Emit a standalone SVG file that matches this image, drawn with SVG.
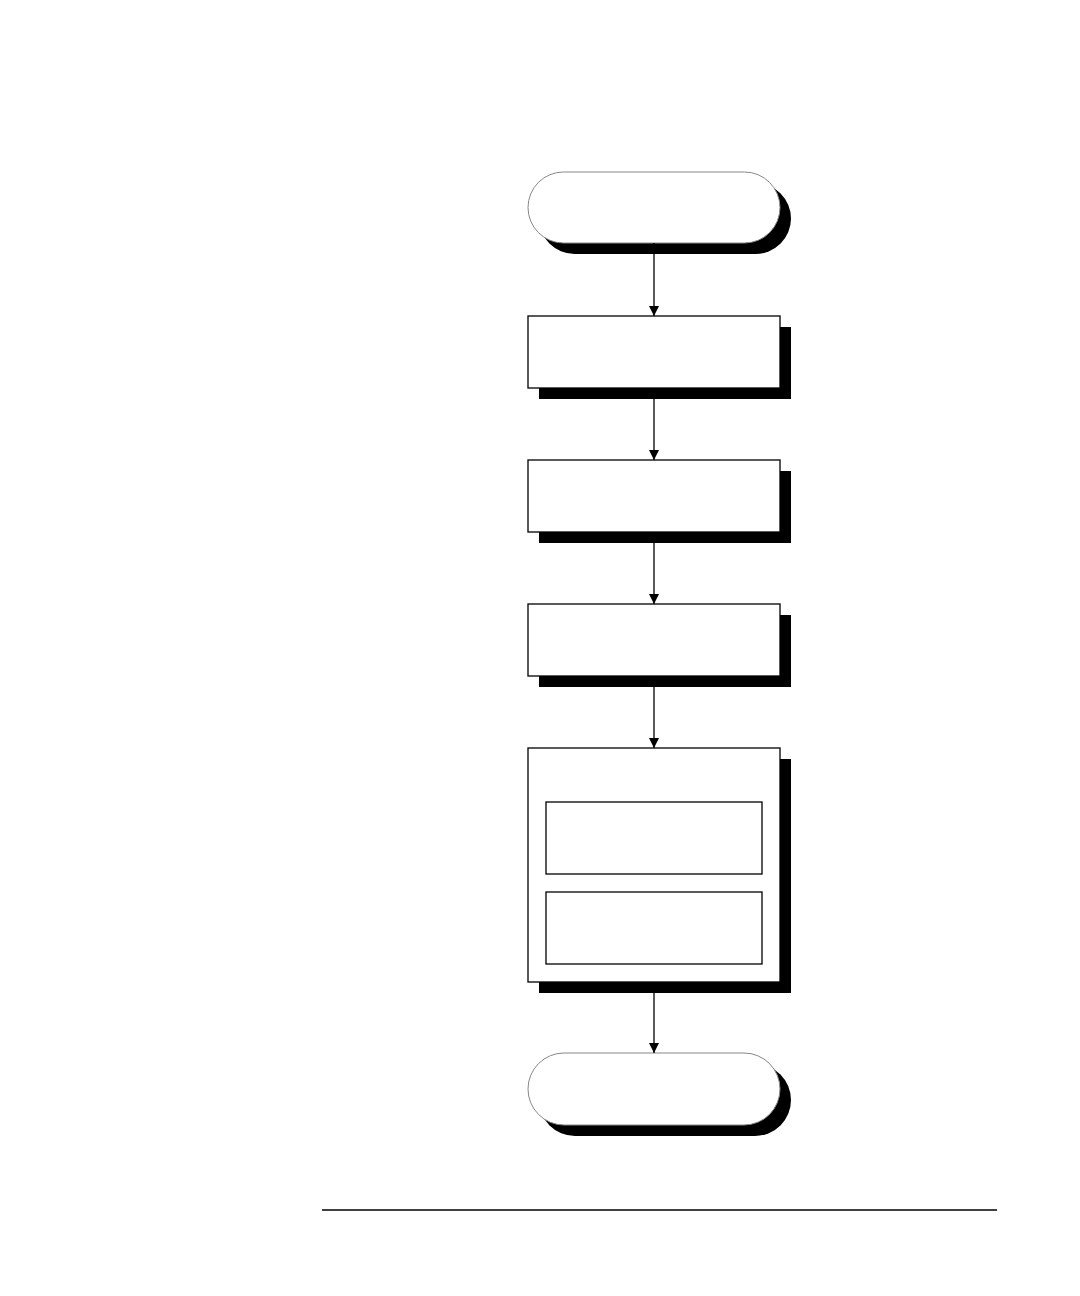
<svg xmlns="http://www.w3.org/2000/svg" width="1080" height="1296" viewBox="0 0 1080 1296">
<style>
.sh{fill:#000}
.box{fill:#fff;stroke:#000;stroke-width:1.3}
.term{fill:#fff;stroke:#888;stroke-width:1}
.conn{stroke:#000;stroke-width:1.3;fill:none}
</style>
<defs>
<marker id="ah" markerWidth="10" markerHeight="10" refX="10" refY="5" orient="auto" markerUnits="userSpaceOnUse">
<path d="M0,0 L10,5 L0,10 Z" fill="#000"/>
</marker>
</defs>
<rect width="1080" height="1296" fill="#fff"/>
<g id="start">
<rect class="sh" x="539" y="183" width="252" height="71" rx="35.5" fill="#1a1a1a"/>
<rect class="term" x="528" y="172" width="252" height="71" rx="35.5"/>
</g>
<g id="step1">
<rect class="sh" x="539" y="327" width="252" height="72"/>
<rect class="box" x="528" y="316" width="252" height="72"/>
</g>
<g id="step2">
<rect class="sh" x="539" y="471" width="252" height="72"/>
<rect class="box" x="528" y="460" width="252" height="72"/>
</g>
<g id="step3">
<rect class="sh" x="539" y="615" width="252" height="72"/>
<rect class="box" x="528" y="604" width="252" height="72"/>
</g>
<g id="step4">
<rect class="sh" x="539" y="759" width="252" height="234"/>
<rect class="box" x="528" y="748" width="252" height="234"/>
<rect class="box" x="546" y="802" width="216" height="72"/>
<rect class="box" x="546" y="892" width="216" height="72"/>
</g>
<g id="end">
<rect class="sh" x="539" y="1064" width="252" height="72" rx="36"/>
<rect class="term" x="528" y="1053" width="252" height="72" rx="36"/>
</g>
<g id="connectors">
<line class="conn" x1="654" y1="243" x2="654" y2="316" marker-end="url(#ah)"/>
<line class="conn" x1="654" y1="399" x2="654" y2="460" marker-end="url(#ah)"/>
<line class="conn" x1="654" y1="543" x2="654" y2="604" marker-end="url(#ah)"/>
<line class="conn" x1="654" y1="687" x2="654" y2="748" marker-end="url(#ah)"/>
<line class="conn" x1="654" y1="993" x2="654" y2="1053" marker-end="url(#ah)"/>
</g>
<line x1="322" y1="1210" x2="997" y2="1210" stroke="#000" stroke-width="1.5"/>
</svg>
